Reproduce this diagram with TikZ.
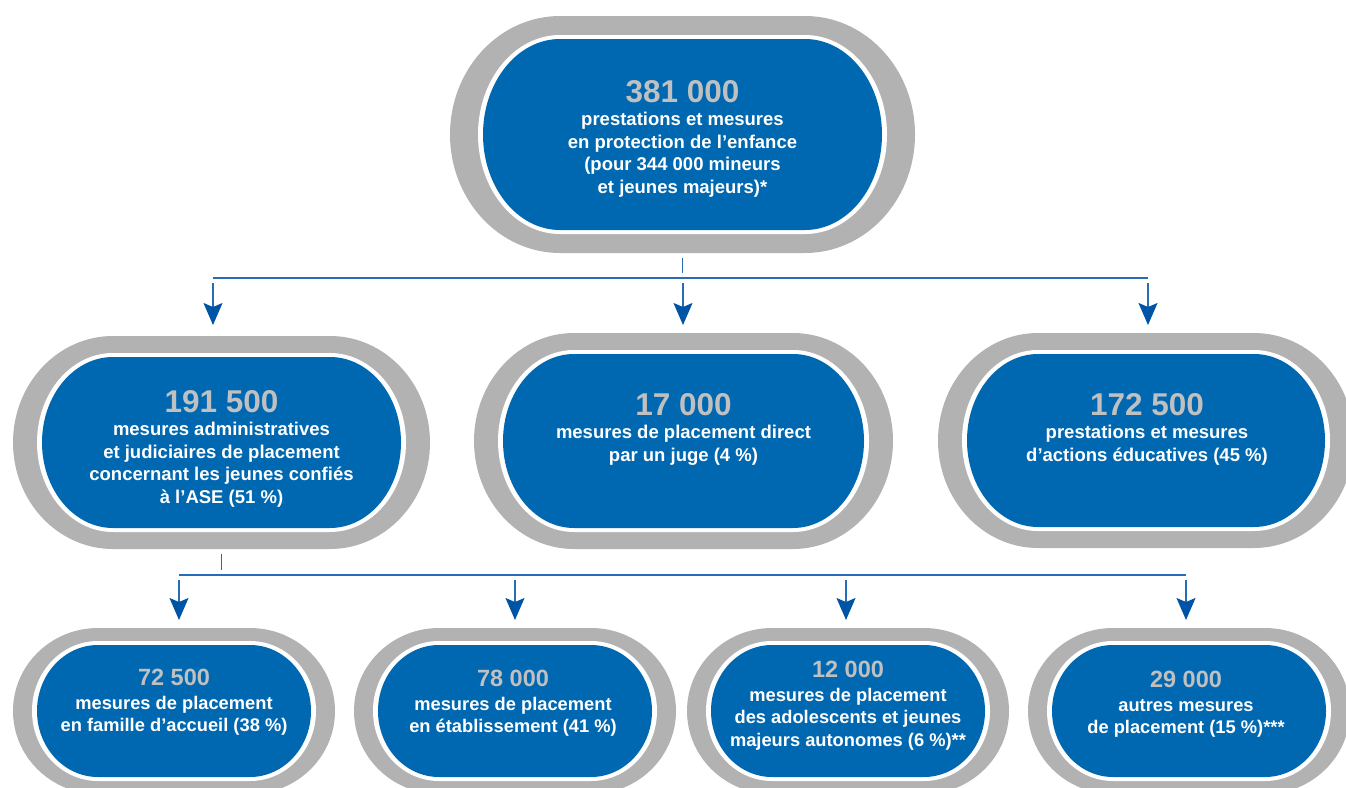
\documentclass[tikz,border=0pt]{standalone}
\usepackage{fontspec}
\setmainfont{Liberation Sans}
\usetikzlibrary{arrows.meta}
\definecolor{boxblue}{RGB}{0,103,177}
\definecolor{ringgray}{RGB}{178,178,178}
\definecolor{numgray}{RGB}{192,192,192}
\definecolor{linblue}{RGB}{38,108,184}
\definecolor{tipblue}{RGB}{0,84,165}

% pill with elliptical ends: colour, cx, cy, half-width, half-height, end x-radius
\newcommand{\pillfill}[6]{%
  \fill[#1] ({#2-(#4)+(#6)},{#3+(#5)}) -- ({#2+(#4)-(#6)},{#3+(#5)})
    arc[start angle=90,end angle=-90,x radius={#6},y radius={#5}]
    -- ({#2-(#4)+(#6)},{#3-(#5)})
    arc[start angle=270,end angle=90,x radius={#6},y radius={#5}] -- cycle;}

% name, cx, cy(px, downwards), A, B, R, ring dx, ring dy
\newcommand{\drawpill}[8]{%
  \pgfmathsetmacro{\pcx}{#2}\pgfmathsetmacro{\pcy}{-(#3)}%
  \pgfmathsetmacro{\wA}{#4-(#7)}\pgfmathsetmacro{\wB}{#5-(#8)}\pgfmathsetmacro{\wR}{#6-(#7)}%
  \pgfmathsetmacro{\bA}{\wA-5}\pgfmathsetmacro{\bB}{\wB-4}\pgfmathsetmacro{\bR}{\wR-5}%
  \pgfmathsetmacro{\pW}{2*(#4)}\pgfmathsetmacro{\pH}{2*(#5)}%
  \pillfill{ringgray}{\pcx}{\pcy}{#4}{#5}{#6}
  \pillfill{white}{\pcx}{\pcy}{\wA}{\wB}{\wR}
  \pillfill{boxblue}{\pcx}{\pcy}{\bA}{\bB}{\bR}
  \node[pillbox, minimum width=\pW pt, minimum height=\pH pt] (#1) at (\pcx,\pcy) {};}

\newcommand{\bignum}[1]{{\fontsize{31.5}{31.5}\selectfont\color{numgray}#1}}
\newcommand{\smallnum}[1]{{\fontsize{23.5}{23.5}\selectfont\color{numgray}#1}}

\begin{document}
\begin{tikzpicture}[x=1pt,y=1pt,
  pillbox/.style={inner sep=0pt, outer sep=0pt, draw=none},
  txt/.style={text=white, font=\bfseries\fontsize{18.5}{22.5}\selectfont, align=center, inner sep=0pt, anchor=north},
  stxt/.style={text=white, font=\bfseries\fontsize{18.3}{22.5}\selectfont, align=center, inner sep=0pt, anchor=north},
  lin/.style={draw=linblue, line width=1.5pt},
  arr/.style={draw=linblue, line width=1.5pt, -{Stealth[length=22pt,width=19pt,inset=4pt,fill=tipblue,color=tipblue]}}]
\useasboundingbox (0,0) rectangle (1346,-787);
\clip (0,0) rectangle (1346,-787);

% shapes
\drawpill{top}{682.5}{134.5}{232.5}{118.5}{110}{28}{19}
\drawpill{m1}{221.5}{442.5}{208.5}{106.5}{100}{24}{17}
\drawpill{m2}{683.5}{441}{209.5}{108}{100}{24}{17}
\drawpill{m3}{1146}{440.5}{208}{107.5}{100}{24}{17}
\drawpill{b1}{174}{711}{161}{83}{85}{19}{13}
\drawpill{b2}{515}{711}{161}{83}{85}{19}{13}
\drawpill{b3}{848}{711}{161}{83}{85}{19}{13}
\drawpill{b4}{1189}{711}{161}{83}{85}{19}{13}

% texts
\node[txt] (ttop) at (682.5,-80.5) {\bignum{381 000}\\[0.5pt]prestations et mesures\\en protection de l’enfance\\(pour 344 000 mineurs\\et jeunes majeurs)*};
\node[txt] (tm1) at (221.5,-390.5) {\bignum{191 500}\\[0.5pt]mesures administratives\\et judiciaires de placement\\concernant les jeunes confiés\\à l’ASE (51 \%)};
\node[txt] (tm2) at (683.5,-393.5) {\bignum{17 000}\\[0.5pt]mesures de placement direct\\par un juge (4 \%)};
\node[txt] (tm3) at (1147,-393.5) {\bignum{172 500}\\[0.5pt]prestations et mesures\\d’actions éducatives (45 \%)};
\node[stxt] (tb1) at (174,-669) {\smallnum{72 500}\\[1pt]mesures de placement\\en famille d’accueil (38 \%)};
\node[stxt] (tb2) at (513,-670) {\smallnum{78 000}\\[1pt]mesures de placement\\en établissement (41 \%)};
\node[stxt] (tb3) at (848,-661) {\smallnum{12 000}\\[1pt]mesures de placement\\des adolescents et jeunes\\majeurs autonomes (6 \%)**};
\node[stxt] (tb4) at (1186,-671) {\smallnum{29 000}\\[1pt]autres mesures\\de placement (15 \%)***};

% first level connectors
\coordinate (barL) at (213,-278);
\coordinate (barR) at (1148,-278);
\coordinate (a1) at (213,-283);
\coordinate (a2) at (683,-283);
\coordinate (a3) at (1148,-283);
\draw[lin] ([yshift=-5pt]top.south) -- ([yshift=-20pt]top.south);
\draw[lin] (barL) -- (barR);
\draw[arr, shorten >=11pt] (a1) -- (a1 |- m1.north);
\draw[arr, shorten >=8pt] (a2) -- (a2 |- m2.north);
\draw[arr, shorten >=8pt] (a3) -- (a3 |- m3.north);

% second level connectors
\coordinate (bar2L) at (179,-575);
\coordinate (bar2R) at (1186,-575);
\coordinate (c1) at (179,-580);
\coordinate (c2) at (515,-580);
\coordinate (c3) at (846,-580);
\coordinate (c4) at (1186,-580);
\draw[lin] ([yshift=-5pt]m1.south) -- ([yshift=-21pt]m1.south);
\draw[lin] (bar2L) -- (bar2R);
\draw[arr, shorten >=8pt] (c1) -- (c1 |- b1.north);
\draw[arr, shorten >=8pt] (c2) -- (c2 |- b2.north);
\draw[arr, shorten >=8pt] (c3) -- (c3 |- b3.north);
\draw[arr, shorten >=8pt] (c4) -- (c4 |- b4.north);
\end{tikzpicture}
\end{document}
